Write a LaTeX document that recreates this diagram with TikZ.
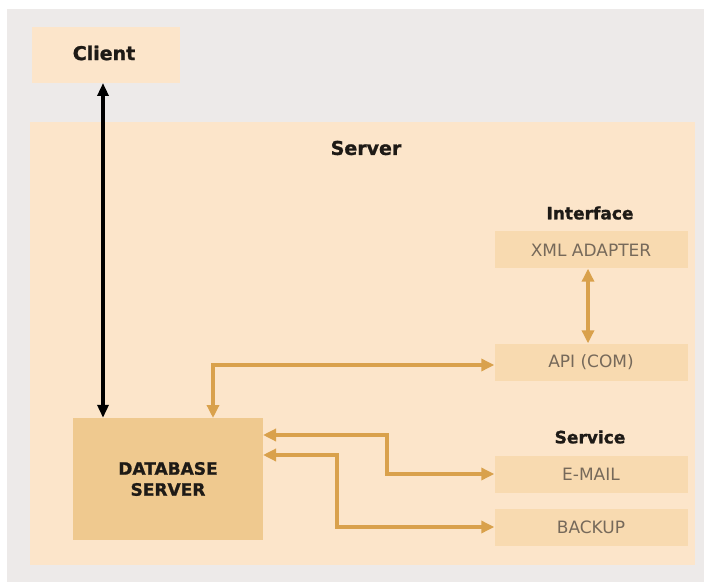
\documentclass[tikz,border=0pt]{standalone}
\usepackage{fontspec}
\setmainfont{DejaVu Sans}
\newfontfamily\heavyfont[FakeBold=1.2]{DejaVu Sans Bold}
\usetikzlibrary{arrows.meta,calc}

\definecolor{pagegray}{HTML}{EDEAE9}
\definecolor{zonefill}{HTML}{FCE5CA}
\definecolor{unitfill}{HTML}{F8DAB0}
\definecolor{dbfill}{HTML}{EFC98F}
\definecolor{linkcol}{HTML}{D9A14C}
\definecolor{unittext}{HTML}{76695A}
\definecolor{headtext}{HTML}{1E1A16}

\tikzset{
  zone/.style={fill=zonefill, draw=none},
  unit/.style={fill=unitfill, draw=none, minimum width=193pt, minimum height=37pt,
    inner sep=0pt, font=\fontsize{17}{19}\selectfont, text=unittext},
  heading/.style={font=\heavyfont\fontsize{17}{19}\selectfont, text=headtext, inner sep=0pt},
  bigheading/.style={font=\heavyfont\fontsize{19}{21}\selectfont, text=headtext, inner sep=0pt},
  link/.style={draw=linkcol, line width=4pt,
    {Triangle[length=13pt,width=12pt]}-{Triangle[length=13pt,width=12pt]}},
  blacklink/.style={draw=black, line width=3.5pt,
    {Triangle[length=13pt,width=11pt]}-{Triangle[length=13pt,width=11pt]}},
}

\begin{document}
\begin{tikzpicture}[x=1pt,y=-1pt]
  \useasboundingbox (0,0) rectangle (704,585);
  \fill[white] (0,0) rectangle (704,585);
  \fill[pagegray] (7,9) rectangle (704,582);

  % client and server areas
  \path[zone] (32,27) rectangle (180,83);
  \node[bigheading] (client) at (104,53) {Client};
  \coordinate (clientbottom) at (103,83);
  \path[zone] (30,122) rectangle (695,565);
  \node[bigheading] (server) at (366,148) {Server};

  % database server
  \node[fill=dbfill, minimum width=190pt, minimum height=122pt, inner sep=0pt,
        align=center, font=\heavyfont\fontsize{17}{21}\selectfont, text=headtext]
        (db) at (168,479) {DATABASE\\SERVER};

  % interface units
  \node[heading] (iface) at (590,213) {Interface};
  \node[unit] (xml) at (591,250) {XML ADAPTER};
  \node[unit] (api) at (591,362) {API (COM)};

  % service units
  \node[heading] (service) at (590,437) {Service};
  \node[unit] (mail) at (591,474) {E-MAIL};
  \node[unit] (backup) at (591,527) {BACKUP};

  % connectors
  \draw[blacklink] (clientbottom) -- (clientbottom |- db.north);
  \draw[link] (xml.south -| 588,0) -- (api.north -| 588,0);

  \coordinate (apiin) at ($(api.west)+(0,3)$);
  \coordinate (dbtop) at (213,418);
  \draw[link] (dbtop) -- (dbtop |- apiin) -- (apiin);

  \coordinate (dbr1) at (263,435);
  \draw[link] (dbr1) -- (387,435) -- (387,474) -- (mail.west);

  \coordinate (dbr2) at (263,455);
  \draw[link] (dbr2) -- (337,455) -- (337,527) -- (backup.west);
\end{tikzpicture}
\end{document}
